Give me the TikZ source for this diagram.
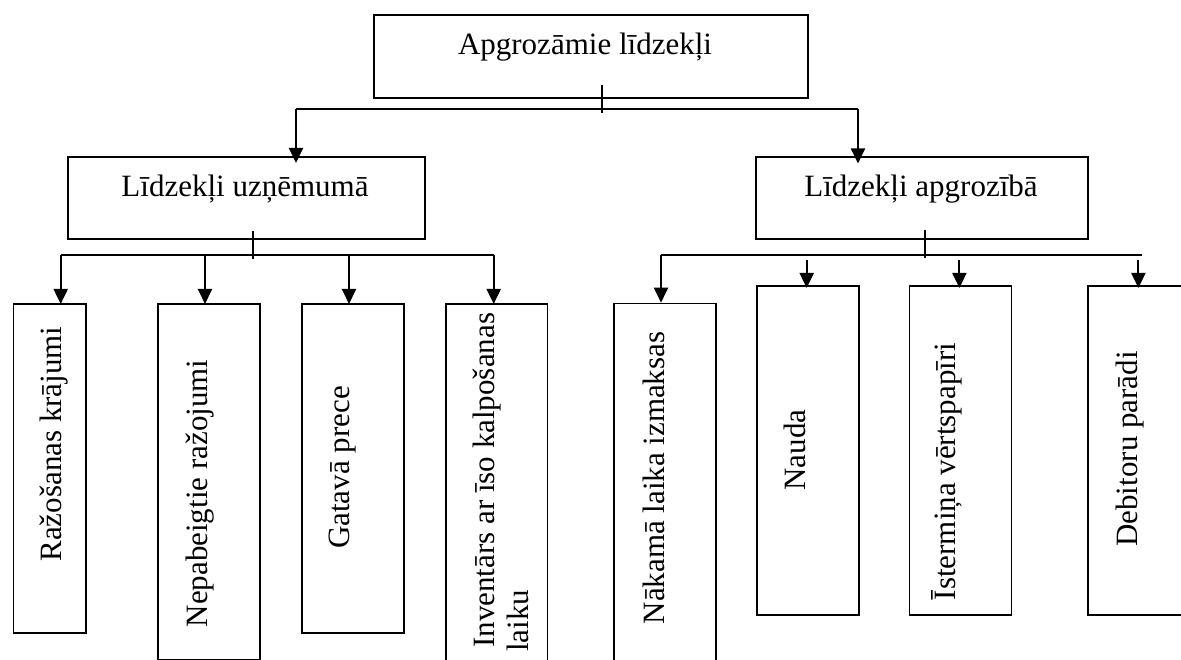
\documentclass[tikz,border=0pt]{standalone}
\usepackage{fontspec}
\setmainfont{Liberation Serif}
\usetikzlibrary{arrows.meta,calc}
\begin{document}
\begin{tikzpicture}[x=1pt,y=-1pt,
  box/.style={draw, line width=1.8pt, inner sep=0pt, anchor=north west},
  lbl/.style={inner sep=0pt, font=\fontsize{31}{37}\selectfont},
  hlbl/.style={lbl, anchor=base},
  vlbl/.style={lbl, rotate=90, anchor=base},
  vlblw/.style={lbl, rotate=90, anchor=base west},
  bar/.style={line width=2pt},
  tick/.style={line width=1.6pt},
  arr/.style={line width=2pt, -{Triangle[length=15pt,width=14pt]}}]
\clip (0,0) rectangle (1181,660);
\fill[white] (0,0) rectangle (1181,660);

% boxes
\node[box, minimum width=434, minimum height=83]   (top) at (373,14.5) {};
\node[box, minimum width=357, minimum height=82.5] (L)   at (67,156) {};
\node[box, minimum width=332, minimum height=82]   (R)   at (755,156.5) {};
\node[box, minimum width=72.4, minimum height=329] (c1) at (12.6,303) {};
\node[box, minimum width=102, minimum height=356]  (c2) at (157,303) {};
\node[box, minimum width=102, minimum height=329]  (c3) at (301,303) {};
\node[box, minimum width=101.8, minimum height=400] (c4) at (444.7,303) {};
\node[box, minimum width=102, minimum height=400]  (c5) at (613,302.7) {};
\node[box, minimum width=102, minimum height=329.3] (c6) at (755.7,285) {};
\node[box, minimum width=102, minimum height=329.3] (c7) at (908.5,285) {};
\node[box, minimum width=150, minimum height=329.3] (c8) at (1087,285) {};

% labels
\node[hlbl] (topT) at (585,55) {Apgrozāmie līdzekļi};
\node[hlbl] (LT) at (245,197) {Līdzekļi uzņēmumā};
\node[hlbl] (RT) at (921,197) {Līdzekļi apgrozībā};
\node[vlbl] (c1T) at (61.5,444) {Ražošanas krājumi};
\node[vlbl] (c2T) at (207,493.5) {Nepabeigtie ražojumi};
\node[vlbl] (c3T) at (349,467.5) {Gatavā prece};
\node[vlblw] (c4T) at (494,648) {Inventārs ar īso kalpošanas};
\node[vlblw] (c4Tb) at (528,652) {laiku};
\node[vlbl] (c5T) at (664,478) {Nākamā laika izmaksas};
\node[vlbl] (c6T) at (805,450) {Nauda};
\node[vlbl] (c7T) at (955,471.5) {Īstermiņa vērtspapīri};
\node[vlbl] (c8T) at (1137,449) {Debitoru parādi};

% top level branching
\coordinate (t0) at (296,109);
\coordinate (t1) at (858,109);
\coordinate (tk) at (602,109);
\draw[bar] (t0) -- (t1);
\draw[tick] ($(tk)+(0,-24)$) -- ($(tk)+(0,4)$);
\draw[arr] (t0) -- ($(t0 |- L.north)+(0,7)$);
\draw[arr] (t1) -- ($(t1 |- R.north)+(0,7)$);

% left branching
\coordinate (l0) at (60.7,255);
\coordinate (l1) at (205,255);
\coordinate (l2) at (349,255);
\coordinate (l3) at (493.7,255);
\coordinate (lk) at (253,255);
\draw[bar] (l0) -- (l3);
\draw[tick] ($(lk)+(0,-24)$) -- ($(lk)+(0,4)$);
\draw[arr] (l0) -- ($(l0 |- c1.north)+(0,1)$);
\draw[arr] (l1) -- ($(l1 |- c2.north)+(0,1)$);
\draw[arr] (l2) -- ($(l2 |- c3.north)+(0,1)$);
\draw[arr] (l3) -- ($(l3 |- c4.north)+(0,1)$);

% right branching
\coordinate (r0) at (661,255);
\coordinate (r3) at (1142,255);
\coordinate (rk) at (925,255);
\coordinate (r1) at (806.7,260.5);
\coordinate (r2) at (959.4,260.5);
\coordinate (r4) at (1138.4,260.5);
\draw[bar] (r0) -- (r3);
\draw[tick] ($(rk)+(0,-24.5)$) -- ($(rk)+(0,3.5)$);
\draw[arr] (r0) -- (r0 |- c5.north);
\draw[arr] (r1) -- ($(r1 |- c6.north)+(0,3)$);
\draw[arr] (r2) -- ($(r2 |- c7.north)+(0,3)$);
\draw[arr] (r4) -- ($(r4 |- c8.north)+(0,3)$);
\end{tikzpicture}
\end{document}
